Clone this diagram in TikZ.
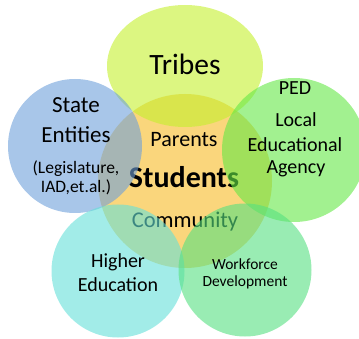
\documentclass[tikz,border=0pt]{standalone}
\usepackage{fontspec}
\setmainfont{Carlito}
\begin{document}
\begin{tikzpicture}[x=1pt,y=-1pt,
  ring/.style={fill opacity=0.6,draw=none},
  lbl/.style={anchor=base,inner sep=0pt,text=black}]
\definecolor{coreC}{RGB}{250,214,124}
\definecolor{tribeC}{RGB}{196,240,45}
\definecolor{stateC}{RGB}{110,160,218}
\definecolor{pedC}{RGB}{100,232,70}
\definecolor{higherC}{RGB}{100,224,216}
\definecolor{workC}{RGB}{85,224,128}
\useasboundingbox (0,0) rectangle (359,339);
% central circle with its labels (lies under the outer circles)
\fill[coreC] (185,181) circle[radius=87];
\node[lbl,font=\fontsize{22}{24}\selectfont] (parents) at (184,147) {Parents};
\node[lbl,font=\bfseries\fontsize{30}{32}\selectfont] (students) at (184,188) {Students};
\node[lbl,font=\fontsize{22.5}{24}\selectfont] (community) at (185,228) {Community};
% outer circles
\fill[ring,tribeC] (185,66) ellipse[x radius=78,y radius=61];
\fill[ring,stateC] (75,146) circle[radius=67];
\fill[ring,pedC] (294,150) circle[radius=72];
\fill[ring,higherC] (118,271) circle[radius=66.5];
\fill[ring,workC] (245,270) circle[radius=66.5];
% outer labels
\node[lbl,font=\fontsize{29.5}{31}\selectfont] (tribes) at (185,75) {Tribes};
\begin{scope}[every node/.style={lbl,font=\fontsize{23}{25}\selectfont}]
\node (state) at (76,113) {State};
\node (entities) at (76,143) {Entities};
\end{scope}
\begin{scope}[every node/.style={lbl,font=\fontsize{17.5}{19}\selectfont}]
\node (legis) at (76,174) {(Legislature,};
\node (iad) at (76,193) {IAD,et.al.)};
\end{scope}
\begin{scope}[every node/.style={lbl,font=\fontsize{20}{22}\selectfont}]
\node (ped) at (295,95) {PED};
\node (local) at (296,127) {Local};
\node (educ) at (295,152) {Educational};
\node (agency) at (296,174) {Agency};
\node (higher) at (118,268) {Higher};
\node (education) at (118,291) {Education};
\end{scope}
\begin{scope}[every node/.style={lbl,font=\fontsize{15.5}{17}\selectfont}]
\node (workforce) at (245,270) {Workforce};
\node (development) at (245,287) {Development};
\end{scope}
\end{tikzpicture}
\end{document}
